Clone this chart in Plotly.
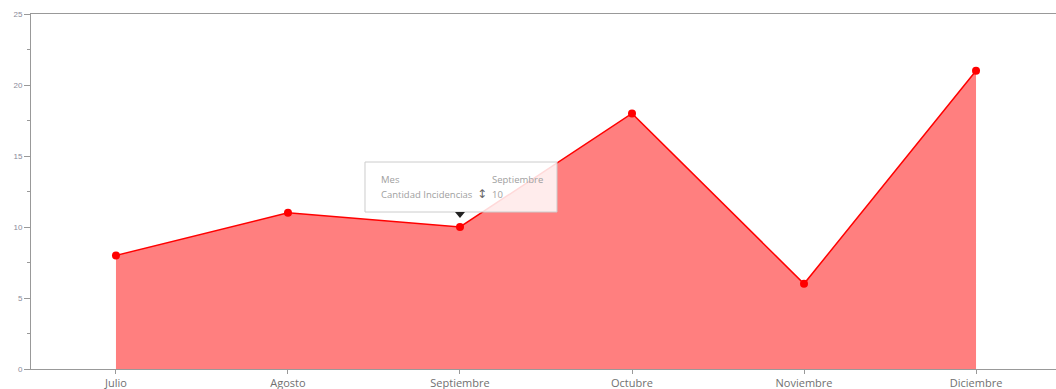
import plotly.graph_objects as go

meses = ["Julio", "Agosto", "Septiembre", "Octubre", "Noviembre", "Diciembre"]
incidencias = [8, 11, 10, 18, 6, 21]
y_ticks = [0, 5, 10, 15, 20, 25]

tip_mes = "Septiembre"
tip_val = 10

fig = go.Figure()
fig.add_trace(go.Scatter(
    x=meses, y=incidencias, mode="lines+markers",
    fill="tozeroy", fillcolor="rgba(255,0,0,0.5)",
    line=dict(color="#ff0000", width=1.5),
    marker=dict(color="#ff0000", size=8),
    hoverinfo="skip", showlegend=False,
))

# tooltip box anchored at the Septiembre point (pixel offsets)
idx = meses.index(tip_mes)
fig.add_shape(type="rect", xref="x", yref="y", xsizemode="pixel", ysizemode="pixel",
              xanchor=idx, yanchor=tip_val, x0=-95, x1=97, y0=15, y1=65,
              fillcolor="rgba(255,255,255,0.85)", line=dict(color="#cccccc", width=1), layer="above")
fig.add_shape(type="path", xref="x", yref="y", xsizemode="pixel", ysizemode="pixel",
              xanchor=idx, yanchor=tip_val, path="M -5 15 L 5 15 L 0 9 Z",
              fillcolor="#222222", line=dict(width=0), layer="above")
for text, xs, ys, fam, size, col in [
        ("Mes", -81, 48, "Open Sans", 9.5, "#a0a0a0"),
        (tip_mes, 30, 48, "Open Sans", 9.5, "#a0a0a0"),
        ("Cantidad Incidencias", -81, 33, "Open Sans", 9.5, "#a0a0a0"),
        ("\u2195", 15, 33, "DejaVu Sans", 12, "#666666"),
        (str(tip_val), 30, 33, "Open Sans", 9.5, "#a0a0a0")]:
    fig.add_annotation(x=idx, y=tip_val, xref="x", yref="y", text=text, showarrow=False,
                       xanchor="left", yanchor="middle", xshift=xs, yshift=ys,
                       font=dict(family=fam, size=size, color=col))

fig.update_layout(
    width=1056, height=389,
    margin=dict(l=31, r=0, t=14, b=20),
    plot_bgcolor="white", paper_bgcolor="white",
    xaxis=dict(type="category", range=[-0.494, 5.465], showline=True, linecolor="#999999",
               linewidth=1, mirror=True, showgrid=False, ticks="outside", ticklen=4,
               tickcolor="#999999", tickfont=dict(family="Open Sans", size=11, color="#707070"),
               zeroline=False),
    yaxis=dict(range=[0, 25], tickvals=y_ticks, showline=True, linecolor="#999999", linewidth=1,
               showgrid=False, ticks="outside", ticklen=6, tickcolor="#999999",
               tickfont=dict(family="Liberation Sans", size=8, color="#8a8a99"),
               minor=dict(dtick=2.5, ticks="outside", ticklen=3, tickcolor="#999999", showgrid=False),
               zeroline=False),
)

fig.write_html("out.html")
